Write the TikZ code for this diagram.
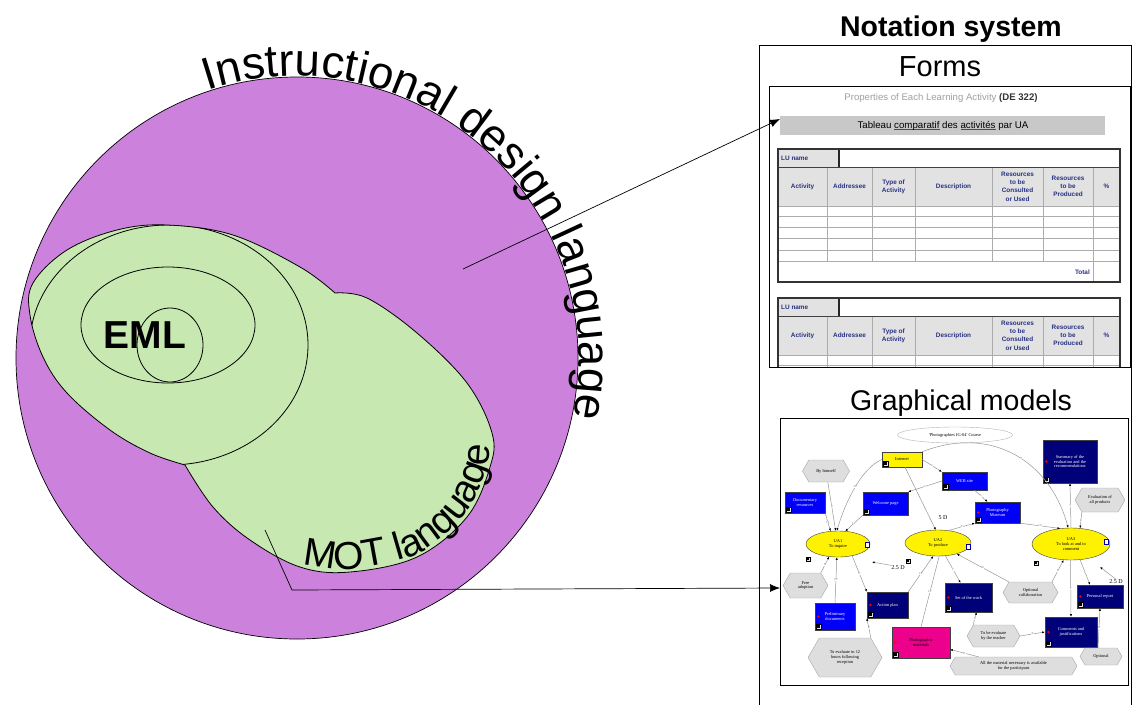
\documentclass[tikz,border=0pt]{standalone}
\usepackage{fontspec}
\setmainfont{Liberation Sans}
\newfontfamily\gmfont{Liberation Serif}
\usetikzlibrary{decorations.text,shapes.symbols,shapes.geometric,arrows.meta,calc}
\definecolor{purp}{RGB}{204,130,220}
\definecolor{grn}{RGB}{199,233,177}
\definecolor{hdrblue}{RGB}{40,50,130}
\definecolor{navyb}{RGB}{0,0,120}
\definecolor{blueb}{RGB}{0,0,250}
\definecolor{hexgray}{RGB}{222,222,222}
\definecolor{edgegray}{RGB}{150,150,150}
\definecolor{barg}{RGB}{200,200,200}
\definecolor{cellg}{RGB}{226,226,226}
\tikzset{
  gm/.style={font=\gmfont\fontsize{4.4}{4.9}\selectfont, align=center, inner sep=0.5pt, line width=0.4pt},
  sz/.style 2 args={minimum width=#1pt, minimum height=#2pt},
  bluebox/.style={gm, rectangle, fill=blueb, draw=gray!50!black, text=white},
  navybox/.style={gm, rectangle, fill=navyb, draw=gray!50!black, text=white},
  yelbox/.style={gm, rectangle, fill=yellow, draw=gray!50!black, text=black},
  magbox/.style={gm, rectangle, fill=magenta, draw=gray!50!black, text=black},
  hexa/.style={gm, shape=signal, signal to=east and west, signal pointer angle=120, fill=hexgray, draw=gray!70, text=black},
  uaell/.style={gm, ellipse, fill=yellow, draw=gray!50!black, inner sep=0pt},
  gmedge/.style={draw=edgegray, line width=0.5pt, -{Latex[length=2.6pt,width=2.2pt,color=black]}},
  gmline/.style={draw=edgegray, line width=0.5pt},
  elab/.style={font=\gmfont\fontsize{3}{3}\selectfont, text=gray, inner sep=0.2pt, fill=white},
  dlab/.style={gm, font=\gmfont\fontsize{6}{6}\selectfont},
  iconsq/.style={draw=black, fill=gray!20, minimum size=4.5pt, inner sep=0pt, line width=0.3pt,
    path picture={\fill[black] ([shift={(-1.1pt,-1.1pt)}]path picture bounding box.center) rectangle ([shift={(1.1pt,1.1pt)}]path picture bounding box.center);}},
  docicon/.style={draw=blue!70!black, fill=white, minimum width=4pt, minimum height=5pt, inner sep=0pt, line width=0.3pt},
  hdr/.style={font=\fontsize{6.4}{8.3}\bfseries\selectfont, text=hdrblue, align=center, inner sep=0pt},
  gridln/.style={draw=gray!65, line width=0.6pt},
  bigarrow/.style={line width=0.7pt, -{Latex[length=10pt,width=8pt]}},
  titlefont/.style={font=\fontsize{28.5}{30}\selectfont, anchor=base}
}
\newcommand\gmicon[1]{\node[iconsq, anchor=south west] (#1-ic) at ([shift={(1.3pt,1.3pt)}]#1.south west) {};}
\newcommand\gmdot[1]{\fill[red] ([xshift=3.5pt]#1.west) circle[radius=1.3pt];}
\newcommand\redul[1]{\setbox0\hbox{#1}\rlap{\color{red}\rule[-1.8pt]{\wd0}{0.6pt}}\box0\relax}
\newcommand\lutable[2]{%
\begin{scope}[shift={(0,#1)}]
 \fill[cellg] (778,0) rectangle (839,18);
 \fill[cellg] (778,18) rectangle (1120,57);
 \foreach \yy in {57,67,78,89,101,112} \draw[gridln] (778,\yy) -- (1120,\yy);
 \foreach \xx in {827,872,915,992,1043} \draw[gridln] (\xx,18) -- (\xx,112);
 \draw[gridln] (1093,18) -- (1093,133);
 \draw[line width=0.9pt, black!75] (778,18) -- (1120,18);
 \draw[line width=1.2pt, black!85] (839,0) -- (839,18);
 \draw[line width=1.2pt, black!80] (778,0) rectangle (1120,133);
 \node[hdr, anchor=west] (#2-lu) at (781,9.5) {LU name};
 \node[hdr] (#2-c1) at (802.5,37.5) {Activity};
 \node[hdr] (#2-c2) at (849.5,37.5) {Addressee};
 \node[hdr] (#2-c3) at (893.5,37.5) {Type of\\Activity};
 \node[hdr] (#2-c4) at (953.5,37.5) {Description};
 \node[hdr] (#2-c5) at (1017.5,37.5) {Resources\\to be\\Consulted\\or Used};
 \node[hdr] (#2-c6) at (1068,37.5) {Resources\\to be\\Produced};
 \node[hdr] (#2-c7) at (1106.5,37.5) {\%};
\end{scope}}
\begin{document}
\begin{tikzpicture}[x=1pt,y=-1pt]
\useasboundingbox (0,0) rectangle (1132,704);
% ---------- left: nested languages ----------
\draw[fill=purp, line width=0.7pt] (297,358) circle[radius=281];
\path[save path=\grnp] plot[smooth,tension=0.6] coordinates {(185,465) (150,453) (110,430) (67,393) (43,357) (30,315) (33,283) (67,250) (117,230) (167,225) (233,235) (300,267) (335,293)}
  -- plot[smooth,tension=0.6] coordinates {(335,293) (367,298) (417,333) (467,383) (492,433) (490,467) (467,517) (417,557) (350,572) (300,567) (250,540) (213,507) (185,465)} -- cycle;
\fill[grn, use path=\grnp];
\draw[line width=0.8pt, use path=\grnp];
\begin{scope}
 \clip[use path=\grnp];
 \draw[line width=0.8pt] (169,345) ellipse[x radius=139, y radius=120];
\end{scope}
\draw[line width=0.8pt] (168,325) ellipse[x radius=87, y radius=58];
\draw[line width=0.8pt] (170,345) ellipse[x radius=33, y radius=37];
\node[anchor=base, font=\fontsize{39}{39}\bfseries\selectfont, inner sep=0pt] (eml) at (145,348) {EML};
\path[decorate, decoration={text along path, text={|\fontsize{45.5}{45.5}\selectfont|Instructional design language}, raise=1pt}]
  (297,358) ++(-108.5:281) arc[start angle=-108.5, end angle=25, radius=281];
\path[decorate, decoration={text along path, text={|\fontsize{39}{39}\selectfont|MOT language}, raise=1.5pt}]
  plot[smooth] coordinates {(302,566) (350,571) (417,556) (466,516) (489,467) (491,433) (489,395)};
% ---------- connectors from the left ----------
\coordinate (a1s) at (463,269);
\coordinate (a1e) at (780,119);
\coordinate (a2s) at (265,530);
\coordinate (a2m) at (292,590);
\coordinate (a2e) at (780,588);
% ---------- right: notation system ----------
\node[titlefont, font=\fontsize{28.5}{30}\bfseries\selectfont] (nottitle) at (951,36) {Notation system};
\draw[line width=0.9pt] (759,720) -- (759,45) -- (1131,45) -- (1131,720);
\node[titlefont, font=\fontsize{29}{30}\selectfont] (formstitle) at (940,76) {Forms};
\node[titlefont] (gmtitle) at (961,410) {Graphical models};
% forms picture
\begin{scope}
 \clip (769,86) rectangle (1130,367);
 \node[font=\fontsize{9.6}{11}\selectfont, text=gray!75] (props) at (941,98) {Properties of Each Learning Activity \textcolor{gray!40!black}{\textbf{(DE 322)}}};
 \fill[barg] (780,116) rectangle (1105,135);
 \node[font=\fontsize{9.7}{11}\selectfont] (tabtitle) at (943,125.5) {Tableau \redul{comparatif} des \redul{activités} par UA};
 \lutable{149}{ta}
 \node[hdr, anchor=east] (total) at (1090,272) {Total};
 \lutable{298}{tb}
\end{scope}
\draw[line width=0.8pt] (769,86) rectangle (1130,367);
% graphical model picture
\draw[line width=0.8pt] (780,418) rectangle (1128,685);
\node[gm, ellipse, draw=gray!60, sz={115}{16}, inner sep=0pt] (course) at (955,435) {'Photographies IG-04' Course};
\node[yelbox, sz={40}{15}] (internet) at (902,459.5) {Internet};
\node[hexa, sz={47}{22}] (himself) at (826,471) {By himself};
\node[bluebox, sz={45}{18}] (web) at (964.5,481) {WEB site};
\node[navybox, sz={54}{43}] (summary) at (1070,461.5) {Summary of the\\evaluation and the\\recommendations};
\node[hexa, sz={50}{24}] (evalall) at (1100,500) {Evaluation of\\all products};
\node[bluebox, sz={40}{21}] (docres) at (805,502.5) {Documentary\\resources};
\node[bluebox, sz={45}{23}] (welcome) at (885.5,503.5) {Welcome page};
\node[bluebox, sz={45}{21}] (museum) at (997.5,512.5) {Photography\\Museum};
\node[dlab] (d5) at (943,518) {5 D};
\node[uaell, sz={64}{26}] (ua1) at (838,544) {UA1\\To inquire};
\node[uaell, sz={66}{26}] (ua2) at (938,543) {UA2\\To produce};
\node[uaell, sz={78}{32}] (ua3) at (1071,544) {UA3\\To look at and to\\comment};
\node[dlab] (d25a) at (898,568) {2.5 D};
\node[dlab] (d25b) at (1116,582) {2.5 D};
\node[hexa, sz={45}{25}] (freead) at (805.5,585.5) {Free\\adoption};
\node[bluebox, sz={40}{27}] (prelim) at (835,616.5) {Preliminary\\documents};
\node[navybox, sz={41}{26}] (action) at (887.5,605) {Action plan};
\node[hexa, sz={74}{39}] (eval12) at (845,657.5) {To evaluate in 12\\hours following\\reception};
\node[magbox, sz={58}{31}] (photomat) at (921,642.5) {Photographic\\materials};
\node[navybox, sz={47}{29}] (setwork) at (968.5,597.5) {Set of the work};
\node[hexa, sz={53}{22}] (teacher) at (993.5,636) {To be evaluate\\by the teacher};
\node[hexa, sz={55}{21}] (optcol) at (1030.5,592.5) {Optional\\collaboration};
\node[hexa, sz={127}{18}] (allmat) at (1013.5,666) {All the material necessary is available\\for the participant};
\node[navybox, sz={52}{30}] (comments) at (1071,632) {Comments and\\justifications};
\node[navybox, sz={46}{23}] (report) at (1100,596.5) {Personal report};
\node[hexa, sz={42}{17}] (optional) at (1101,656.5) {Optional};
\foreach \n in {internet,web,summary,docres,welcome,museum,prelim,action,photomat,setwork,comments,report} {\gmicon{\n}}
\foreach \n in {summary,museum,prelim,action,photomat,setwork,comments,report} {\gmdot{\n}}
\node[docicon] (ua1-doc) at (867,545) {};
\node[docicon] (ua2-doc) at (968,547) {};
\node[docicon] (ua3-doc) at (1106,542) {};
\node[iconsq] (ua1-sq) at (808,559) {};
\node[iconsq] (ua2-sq) at (908,561) {};
\node[iconsq] (ua3-sq) at (1036,563) {};
\coordinate (t25a) at (872,562);
\coordinate (t25b) at (1100,567);
% graph connectors
\draw[gmedge] (internet.west) .. controls (862,468) and (846,500) .. (ua1.95) node[elab, pos=0.5] {I/P};
\draw[gmedge] ([xshift=3pt]internet.south) -- (ua2.100);
\draw[gmedge] (internet.north east) .. controls (990,425) and (1050,460) .. (ua3.100) node[elab, pos=0.55] {P};
\draw[gmedge] (internet.east) -- (web.north west) node[elab, midway] {C};
\draw[gmedge] (web.west) -- (welcome.north east) node[elab, midway] {C};
\draw[gmedge] ([xshift=10pt]web.south) -- ([xshift=-10pt]museum.north) node[elab, midway] {C};
\draw[gmedge] (himself) -- (ua1.100) node[elab, midway] {R};
\draw[gmedge] (docres.south east) -- (ua1.120) node[elab, midway] {I/P};
\draw[gmedge] (welcome.south west) -- (ua1.60) node[elab, midway] {I/P};
\draw[gmedge] (ua2.50) -- (museum.south west) node[elab, midway] {P};
\draw[gmedge] (museum.south east) -- (ua3.125) node[elab, midway] {I/P};
\draw[gmedge] (ua3.north) -- (summary.south) node[elab, midway] {P};
\draw[gmedge] (evalall.south west) -- (ua3.60) node[elab, midway] {R};
\draw[gmedge] (freead.north east) -- (ua1.-125) node[elab, midway] {R};
\draw[gmedge] (prelim.north) -- (ua1.-95) node[elab, midway] {I/P};
\draw[gmedge] (ua1.-40) -- (action.north west) node[elab, midway] {P};
\draw[gmedge] (d25a.north west) -- (t25a);
\draw[gmedge] (action.north east) -- (ua2.-110) node[elab, midway] {I/P};
\draw[gmline] (photomat.north) -- (ua2.-85) node[elab, midway] {I/P};
\draw[gmedge] (ua2.-60) -- ([xshift=-8pt]setwork.north) node[elab, midway] {P};
\draw[gmedge] (optcol.north west) -- (ua2.-30) node[elab, midway] {R};
\draw[gmedge] (optcol.north east) -- (ua3.-115) node[elab, midway] {R};
\draw[gmedge] (ua3.-92) -- (comments.north) node[elab, midway] {P};
\draw[gmedge] (ua3.-60) -- ([xshift=-10pt]report.north) node[elab, midway] {P};
\draw[gmedge] (d25b.north) -- (t25b);
\draw[gmedge] (eval12.north east) -- (action.south west) node[elab, midway] {R};
\draw[gmedge] (teacher.north west) -- ([xshift=8pt]setwork.south) node[elab, midway] {R};
\draw[gmedge] (teacher.east) -- (comments.west) node[elab, midway] {R};
\draw[gmedge] ([xshift=-35pt]allmat.north) -- ([yshift=-7pt]photomat.east) node[elab, midway] {R};
\draw[gmedge] ([xshift=-3pt]optional.north) -- (report.south) node[elab, midway] {R};
% big connectors
\draw[bigarrow] (a1s) -- (a1e);
\draw[bigarrow] (a2s) -- (a2m) -- (a2e);
\end{tikzpicture}
\end{document}
